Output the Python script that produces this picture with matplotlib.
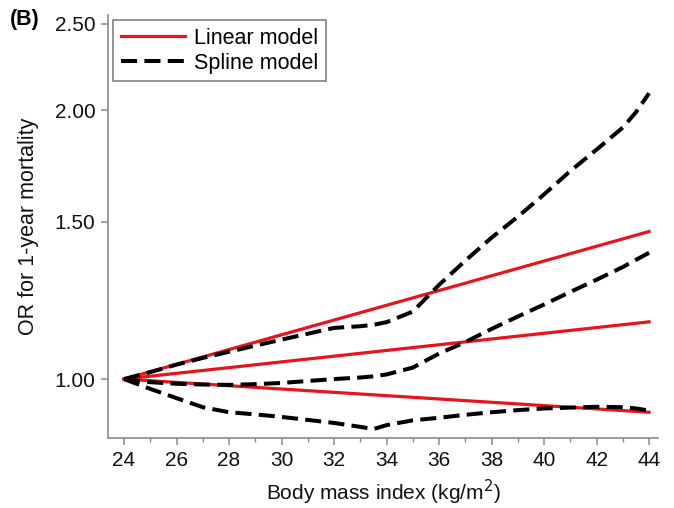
import matplotlib
matplotlib.use("Agg")
import matplotlib.pyplot as plt
from matplotlib.ticker import FixedLocator, NullFormatter, NullLocator

plt.rcParams['font.family'] = ['Liberation Sans', 'DejaVu Sans']

# Linear model (straight on log-OR scale): point estimate, upper and lower CI
lin_bmi = [24, 44]
lin_mid = [1.0, 1.159]
lin_hi = [1.0, 1.463]
lin_lo = [1.0, 0.918]

# Spline model: point estimate, upper and lower CI
spl_bmi = [24, 25, 26, 27, 28, 29, 30, 31, 32, 33, 33.5, 34, 35, 36, 37, 38, 39, 40, 41, 42, 43, 43.5, 44]
spl_mid = [1.0, 0.992, 0.988, 0.986, 0.985, 0.987, 0.990, 0.995, 1.0, 1.004, 1.007, 1.012, 1.030,
           1.068, 1.100, 1.138, 1.175, 1.212, 1.252, 1.292, 1.335, 1.360, 1.385]
spl_hi = [1.0, 1.018, 1.038, 1.056, 1.073, 1.090, 1.107, 1.124, 1.141, 1.146, 1.150, 1.158, 1.190,
          1.275, 1.357, 1.440, 1.520, 1.610, 1.710, 1.807, 1.913, 1.990, 2.090]
spl_lo = [1.0, 0.975, 0.952, 0.930, 0.918, 0.913, 0.907, 0.900, 0.893, 0.884, 0.879, 0.888, 0.899,
          0.905, 0.912, 0.918, 0.923, 0.927, 0.929, 0.931, 0.930, 0.927, 0.922]

x_ticks = [24, 26, 28, 30, 32, 34, 36, 38, 40, 42, 44]
x_minor = [25, 27, 29, 31, 33, 35, 37, 39, 41, 43]
y_ticks = [1.00, 1.50, 2.00, 2.50]
y_labels = ["1.00", "1.50", "2.00", "2.50"]

fig = plt.figure(figsize=(6.74, 5.08), dpi=100)
ax = fig.add_axes([108/674, 70/508, (658-108)/674, (438-15)/508])

red = '#e8131b'
lw_r = 2.3
lw_b = 2.9
dash = (4.0, 1.8)

ax.plot(lin_bmi, lin_hi, color=red, lw=lw_r, zorder=2)
ax.plot(lin_bmi, lin_mid, color=red, lw=lw_r, zorder=2)
ax.plot(lin_bmi, lin_lo, color=red, lw=lw_r, zorder=2, label='Linear model')

ax.plot(spl_bmi, spl_hi, color='black', lw=lw_b, dashes=dash, zorder=3)
ax.plot(spl_bmi, spl_mid, color='black', lw=lw_b, dashes=dash, zorder=3)
ax.plot(spl_bmi, spl_lo, color='black', lw=lw_b, dashes=dash, zorder=3, label='Spline model')

ax.set_yscale('log')
ax.set_xlim(23.39, 44.34)
ax.set_ylim(0.859, 2.557)

ax.yaxis.set_major_locator(FixedLocator(y_ticks))
ax.yaxis.set_minor_locator(NullLocator())
ax.yaxis.set_minor_formatter(NullFormatter())
ax.set_yticklabels(y_labels)
ax.set_xticks(x_ticks)
ax.set_xticks(x_minor, minor=True)

spine_c = '#8a8a8a'
for s in ['top', 'right']:
    ax.spines[s].set_visible(False)
for s in ['left', 'bottom']:
    ax.spines[s].set_color(spine_c)
    ax.spines[s].set_linewidth(1.2)

ax.tick_params(axis='both', which='major', direction='out', length=5, width=1.1,
               color=spine_c, labelsize=15, labelcolor='#111111', pad=4)
ax.tick_params(axis='x', which='minor', direction='out', length=3, width=1.0, color=spine_c)

ax.set_xlabel('Body mass index (kg/m$^2$)', fontsize=15, color='#111111', labelpad=6)
ax.set_ylabel('OR for 1-year mortality', fontsize=15.5, color='#111111', labelpad=11)

leg = fig.legend(handles=[ax.lines[2], ax.lines[5]], loc='upper left',
                 bbox_to_anchor=(113/674, 1 - 20/508), fontsize=15.5,
                 frameon=True, fancybox=False, framealpha=1, edgecolor='#8a8a8a',
                 handlelength=3.0, handletextpad=0.4, labelspacing=0.2,
                 borderpad=0.35, borderaxespad=0)
leg.get_frame().set_linewidth(1.3)

fig.text(10/674, 1 - 9/508, '(B)', fontsize=15.5, fontweight='bold', va='top', ha='left')

fig.savefig('out.png', dpi=100)
